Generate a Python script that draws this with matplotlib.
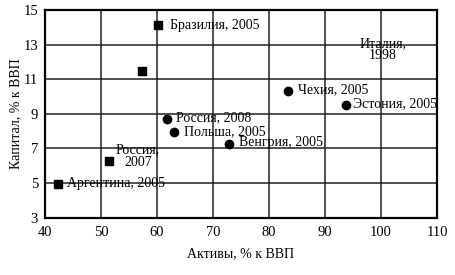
import matplotlib
matplotlib.use("Agg")
import matplotlib.pyplot as plt

plt.rcParams['font.family'] = ['Liberation Serif', 'DejaVu Serif']

# Squares
sq_x = [60.1, 57.4, 51.4, 42.3]
sq_y = [14.15, 11.47, 6.25, 4.97]
# Circles
ci_x = [61.7, 63.0, 72.8, 83.4, 93.7]
ci_y = [8.70, 7.93, 7.26, 10.32, 9.52]

labels = ["Бразилия, 2005", "Россия, 2008", "Польша, 2005", "Венгрия, 2005",
          "Чехия, 2005", "Эстония, 2005", "Россия,\n2007", "Аргентина, 2005",
          "Италия,\n1998"]
label_x = [62.3, 63.4, 64.9, 74.6, 85.2, 95.0, 56.6, 43.9, 100.3]
label_y = [14.13, 8.78, 7.95, 7.37, 10.38, 9.58, 6.55, 4.96, 12.72]
label_ha = ['left', 'left', 'left', 'left', 'left', 'left', 'center', 'left', 'center']

x_ticks = [40, 50, 60, 70, 80, 90, 100, 110]
y_ticks = [3, 5, 7, 9, 11, 13, 15]

fig = plt.figure(figsize=(4.55, 2.75), dpi=100)
ax = fig.add_axes([0.099, 0.2084, 0.8614, 0.7552])
ax.set_xlim(40, 110)
ax.set_ylim(3, 15)
ax.set_xticks(x_ticks)
ax.set_yticks(y_ticks)
ax.grid(True, color='#222222', linewidth=1.1)
ax.set_axisbelow(True)
for s in ax.spines.values():
    s.set_linewidth(1.6)
    s.set_color('black')
ax.tick_params(length=0, labelsize=10.5, pad=6)
ax.tick_params(axis='y', pad=5)

ax.scatter(sq_x, sq_y, marker='s', s=40, color='black', zorder=3)
ax.scatter(ci_x, ci_y, marker='o', s=36, color='black', zorder=3)

for t, x, y, ha in zip(labels, label_x, label_y, label_ha):
    ax.text(x, y, t, ha=ha, va='center', fontsize=10, zorder=4,
            linespacing=0.95)

ax.set_xlabel("Активы, % к ВВП", fontsize=10, labelpad=6)
ax.set_ylabel("Капитал, % к ВВП", fontsize=10, labelpad=1)

fig.savefig("out.png", dpi=100)
